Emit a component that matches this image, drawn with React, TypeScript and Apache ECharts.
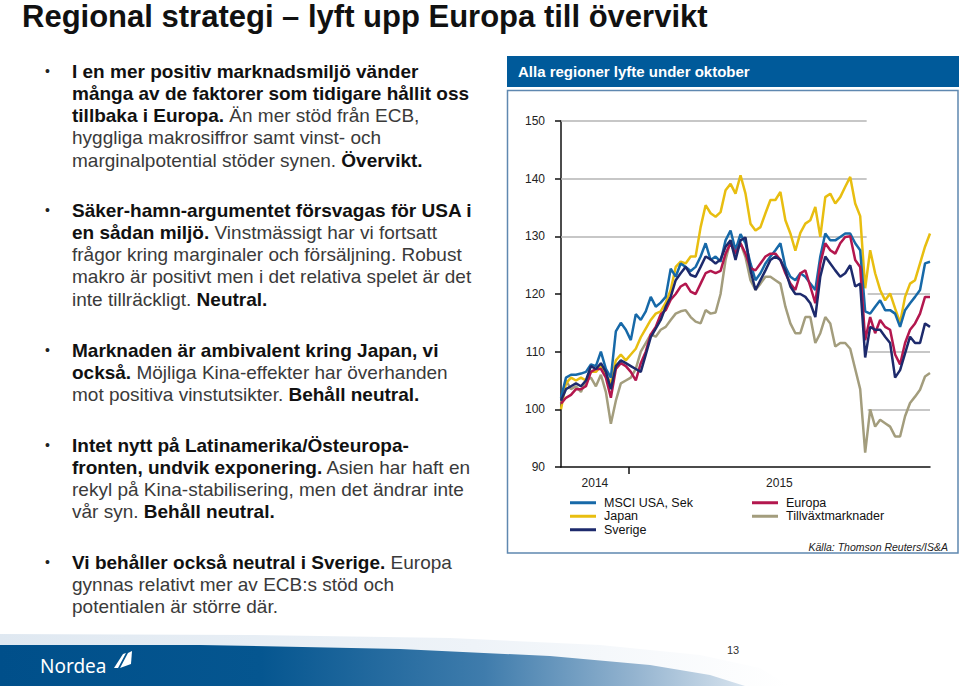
import React, { useEffect, useRef } from 'react';
import * as echarts from 'echarts';

// ---- data ----
const yearLabels = ['2014', '2015'];
const yearBoundary = 13.6;
const seriesNames = ['MSCI USA, Sek', 'Japan', 'Sverige', 'Europa', 'Tillväxtmarknader'];

const usa = [
  102, 105.5, 106, 106, 106.2, 106.5, 107.8, 107.5, 110, 107,
  105.5, 113.5, 115, 113.8, 112, 116.5, 115.5, 117, 119.5, 117.8,
  118.5, 119.5, 124.4, 123, 125.3, 124.7, 124, 124.7, 126.5, 128.8,
  125.9, 126.5, 125.6, 129.3, 131, 127.6, 130.4, 128.8, 125.3, 122.4,
  123.6, 125.3, 126.5, 127.6, 128.8, 124.7, 123, 122.4, 123.6, 123,
  121.8, 120.7, 126.5, 130.5, 129.3, 129.3, 129.9, 130.5, 130.5, 128.8,
  127.6, 117, 116.6, 117.8, 118.9, 117.2, 117.2, 116.6, 114.3, 117.2,
  118.4, 119.5, 120.7, 125.3, 125.6,
];
const japan = [
  100, 104.5, 105.5, 105, 105.5, 105, 106.5, 106.5, 107.5, 106,
  104.5, 108.5, 109.5, 108.5, 109.5, 110.5, 112.5, 114, 115.5, 116.6,
  117, 118.5, 120.7, 124.7, 125.6, 125.3, 126.5, 126.5, 131.6, 135.4,
  134, 133.4, 134.2, 138, 139.1, 137.4, 140.6, 137.4, 132.2, 131,
  131.6, 134, 136.3, 136.3, 137.7, 132.8, 130.5, 127.5, 130.6, 132.2,
  132.8, 135.1, 129.9, 136.8, 137.4, 135.7, 136.8, 138.6, 140.3, 135.7,
  133.5, 121, 127.6, 123.6, 120.7, 118.9, 120.1, 117.5, 115, 119.5,
  121.8, 122.4, 125.3, 128.2, 130.5,
];
const sverige = [
  101.5, 103.5, 104, 104.5, 104, 105, 107.5, 107, 108, 106.5,
  103.5, 107.5, 108.5, 108, 107.5, 107, 106.5, 109.5, 112.5, 114,
  115.5, 117.8, 119.5, 122.4, 123.6, 124.7, 123.3, 123, 124.7, 126.5,
  126, 125.3, 126, 128.2, 129.3, 125.9, 129.3, 129.8, 124.1, 120.7,
  122.4, 124.1, 125.9, 126.5, 125.9, 124.1, 121.3, 120, 120, 119.5,
  118.4, 116, 123, 126.5, 125.3, 124.1, 123, 123.6, 125, 121.3,
  121.8, 109, 114.3, 113.8, 113.8, 112.6, 111.5, 105.5, 106.8, 109.7,
  112.6, 111.5, 111.5, 114.9, 114.3,
];
const europa = [
  101, 102, 102.5, 103.5, 103.5, 104, 106.5, 107, 107, 105.5,
  102, 107, 108, 107.5, 106.5, 105, 108, 110, 113, 114.3,
  116.5, 117.2, 119, 120, 121.3, 121.8, 120.4, 120, 121.8, 123.6,
  124, 123.6, 124, 127, 128.8, 127, 128.8, 127, 124.5, 124.1,
  125.3, 126.5, 127, 127, 125.9, 123.6, 121.8, 120.7, 123.6, 124.1,
  121.3, 118.4, 125.3, 128.8, 127.6, 127, 128.8, 129.9, 130, 125.9,
  124.7, 112, 116, 113.2, 115.5, 114.3, 113.8, 109.5, 107.8, 111.5,
  113.8, 114.9, 116.6, 119.5, 119.5,
];
const tillvaxt = [
  101, 105, 103.5, 104, 103, 105, 105.5, 104, 106, 103,
  97.5, 101.5, 104.5, 105, 105.5, 107, 110, 111.5, 113, 112.6,
  113.8, 114.3, 115.5, 116.6, 117, 117.2, 116, 115.2, 114.9, 117.2,
  116.6, 116.8, 120, 125.9, 129.3, 127.6, 128.8, 126.4, 122.4, 120.7,
  121.8, 123, 123, 122.4, 121.8, 117.8, 114.9, 113.2, 113.2, 116,
  116, 111.5, 113.2, 116, 114.9, 110.9, 111.5, 111.5, 110.5, 107,
  103.5, 92.5, 100, 97, 98.2, 97.6, 97, 95.3, 95.3, 98.8,
  101.1, 102.2, 103.4, 105.7, 106.3,
];
const upperGridValues = [150, 140, 130];
const lowerGridValues = [120, 110, 100];

const bodyParagraphs: [string, boolean][][][] = [
  [
    [['I en mer positiv marknadsmiljö vänder', true]],
    [['många av de faktorer som tidigare hållit oss', true]],
    [['tillbaka i Europa.', true], [' Än mer stöd från ECB,', false]],
    [['hyggliga makrosiffror samt vinst- och', false]],
    [['marginalpotential stöder synen. ', false], ['Övervikt.', true]],
  ],
  [
    [['Säker-hamn-argumentet försvagas för USA i', true]],
    [['en sådan miljö.', true], [' Vinstmässigt har vi fortsatt', false]],
    [['frågor kring marginaler och försäljning. Robust', false]],
    [['makro är positivt men i det relativa spelet är det', false]],
    [['inte tillräckligt. ', false], ['Neutral.', true]],
  ],
  [
    [['Marknaden är ambivalent kring Japan, vi', true]],
    [['också.', true], [' Möjliga Kina-effekter har överhanden', false]],
    [['mot positiva vinstutsikter. ', false], ['Behåll neutral.', true]],
  ],
  [
    [['Intet nytt på Latinamerika/Östeuropa-', true]],
    [['fronten, undvik exponering.', true], [' Asien har haft en', false]],
    [['rekyl på Kina-stabilisering, men det ändrar inte', false]],
    [['vår syn. ', false], ['Behåll neutral.', true]],
  ],
  [
    [['Vi behåller också neutral i Sverige.', true], [' Europa', false]],
    [['gynnas relativt mer av ECB:s stöd och', false]],
    [['potentialen är större där.', false]],
  ],
];
const paragraphTops = [71, 210, 350, 445, 562];

const FONT = '"Liberation Sans", Arial, Helvetica, sans-serif';

export default function App() {
  const ref = useRef<HTMLDivElement>(null);
  useEffect(() => {
    if (!ref.current) return;
    const chart = echarts.init(ref.current, undefined, { renderer: 'svg' });

    const toPairs = (arr: number[]) => arr.map((v, i) => [i, v]);
    const lastIdx = usa.length - 1;

    const graphics: any[] = [];
    // slide title
    graphics.push({
      type: 'text', x: 22, y: 16,
      style: { text: 'Regional strategi – lyft upp Europa till övervikt', fontFamily: FONT, fontSize: 31, fontWeight: 'bold', fill: '#111', verticalAlign: 'middle' },
    });
    // body text
    const LH = 22.3;
    const BFS = 19;
    bodyParagraphs.forEach((para, pi) => {
      const top = paragraphTops[pi];
      graphics.push({
        type: 'text', x: 45, y: top,
        style: { text: '•', fontFamily: FONT, fontSize: 14, fill: '#222', verticalAlign: 'middle' },
      });
      para.forEach((line, li) => {
        const txt = line.map(([t, b]) => `{${b ? 'b' : 'n'}|${t}}`).join('');
        graphics.push({
          type: 'text', x: 72, y: top + li * LH,
          style: {
            text: txt, verticalAlign: 'middle', fontFamily: FONT, fontSize: BFS,
            rich: {
              b: { fontFamily: FONT, fontSize: BFS, fontWeight: 'bold', fill: '#111' },
              n: { fontFamily: FONT, fontSize: BFS, fontWeight: 'normal', fill: '#3a3a3a' },
            },
          },
        });
      });
    });
    // chart header band and frame
    graphics.push({ type: 'rect', shape: { x: 507, y: 56, width: 452, height: 31 }, style: { fill: '#005a9a' } });
    graphics.push({
      type: 'text', x: 518, y: 71.5,
      style: { text: 'Alla regioner lyfte under oktober', fontFamily: FONT, fontSize: 15, fontWeight: 'bold', fill: '#fff', verticalAlign: 'middle' },
    });
    graphics.push({ type: 'rect', shape: { x: 507.5, y: 90.5, width: 450.5, height: 462.5 }, style: { fill: 'none', stroke: '#5f88b0', lineWidth: 1.5 } });
    graphics.push({
      type: 'text', x: 948, y: 547,
      style: { text: 'Källa: Thomson Reuters/IS&A', fontFamily: FONT, fontSize: 10.5, fontStyle: 'italic', fill: '#222', align: 'right', verticalAlign: 'middle' },
    });
    // footer swoosh
    graphics.push({
      type: 'polygon',
      shape: { points: [[0, 634], [250, 635], [450, 638], [600, 645], [700, 655], [760, 668], [790, 686], [0, 686]] },
      style: { fill: { type: 'linear', x: 0, y: 0, x2: 1, y2: 0, colorStops: [{ offset: 0, color: '#dfe8f1' }, { offset: 0.6, color: '#eef3f8' }, { offset: 1, color: '#ffffff' }] } },
    });
    graphics.push({
      type: 'polygon',
      shape: { points: [[0, 645], [200, 645], [400, 649], [550, 656], [650, 665], [710, 675], [745, 686], [0, 686]] },
      style: { fill: { type: 'linear', x: 0, y: 0, x2: 1, y2: 0, colorStops: [{ offset: 0, color: '#004f8a' }, { offset: 0.35, color: '#055690' }, { offset: 0.65, color: '#3f7cac' }, { offset: 0.85, color: '#93b3cf' }, { offset: 1, color: '#d7e3ee' }] } },
    });
    graphics.push({
      type: 'text', x: 40, y: 666,
      style: { text: 'Nordea', fontFamily: '"Noto Sans", Arial, sans-serif', fontSize: 19, fill: '#fff', verticalAlign: 'middle' },
    });
    graphics.push({ type: 'polygon', shape: { points: [[114, 668], [123, 654], [126, 653], [118, 668]] }, style: { fill: '#fff' } });
    graphics.push({ type: 'polygon', shape: { points: [[120, 668], [128, 653], [132, 651], [131, 664]] }, style: { fill: '#fff' } });
    graphics.push({
      type: 'text', x: 733, y: 650,
      style: { text: '13', fontFamily: FONT, fontSize: 11, fill: '#333', align: 'center', verticalAlign: 'middle' },
    });

    const colors = ['#1769a8', '#e8be10', '#1d2a6c', '#b3174e', '#a39d7d'];
    const datasets = [usa, japan, sverige, europa, tillvaxt];
    const order = [4, 1, 0, 3, 2];

    const gridSeg = (v: number, a: number, b: number) => [{ coord: [a, v] }, { coord: [b, v] }];

    const series: any[] = order.map((k) => ({
      name: seriesNames[k],
      type: 'line',
      data: toPairs(datasets[k]),
      showSymbol: false,
      symbol: 'none',
      lineStyle: { color: colors[k], width: 2.5 },
      itemStyle: { color: colors[k] },
      z: 3,
    }));
    series.push({
      type: 'line',
      data: [],
      silent: true,
      z: 1,
      markLine: {
        silent: true,
        symbol: 'none',
        z: 1,
        label: { show: false },
        lineStyle: { color: '#b5b5b5', width: 1.5, type: 'solid' },
        data: [
          ...upperGridValues.map((v) => gridSeg(v, 0, 61.3)),
          ...lowerGridValues.map((v) => gridSeg(v, 61.5, lastIdx)),
        ],
      },
    });

    const legendBase = {
      orient: 'vertical',
      icon: 'rect',
      itemWidth: 26,
      itemHeight: 3,
      itemGap: 0,
      padding: 0,
      textStyle: { fontFamily: FONT, fontSize: 12.5, color: '#111', lineHeight: 13.5, padding: [0, 0, 0, 3] },
    };

    chart.setOption({
      animation: false,
      backgroundColor: '#fff',
      textStyle: { fontFamily: FONT },
      graphic: graphics,
      grid: { left: 561, top: 121, width: 369, height: 346, containLabel: false },
      legend: [
        { ...legendBase, left: 570, top: 496, data: [seriesNames[0], seriesNames[1], seriesNames[2]] },
        { ...legendBase, left: 752, top: 496, data: [seriesNames[3], seriesNames[4]] },
      ],
      xAxis: {
        type: 'value',
        min: 0,
        max: lastIdx,
        splitLine: { show: false },
        axisLine: { show: true, lineStyle: { color: '#111', width: 1.5 } },
        axisTick: { show: true, customValues: [yearBoundary], length: 7, lineStyle: { color: '#111', width: 1.5 } },
        axisLabel: {
          customValues: [yearBoundary / 2, (yearBoundary + lastIdx) / 2],
          formatter: (v: number) => (v < yearBoundary ? yearLabels[0] : yearLabels[1]),
          fontFamily: FONT, fontSize: 12, color: '#222', margin: 10,
        },
      },
      yAxis: {
        type: 'value',
        min: 90,
        max: 150,
        interval: 10,
        splitLine: { show: false },
        axisLine: { show: true, lineStyle: { color: '#111', width: 1.5 } },
        axisTick: { show: true, length: 6, lineStyle: { color: '#111', width: 1.5 } },
        axisLabel: { fontFamily: FONT, fontSize: 12, color: '#222', margin: 16 },
      },
      series,
    });
    return () => chart.dispose();
  }, []);
  return <div ref={ref} style={{ position: 'fixed', left: 0, top: 0, width: 960, height: 686 }} />;
}
